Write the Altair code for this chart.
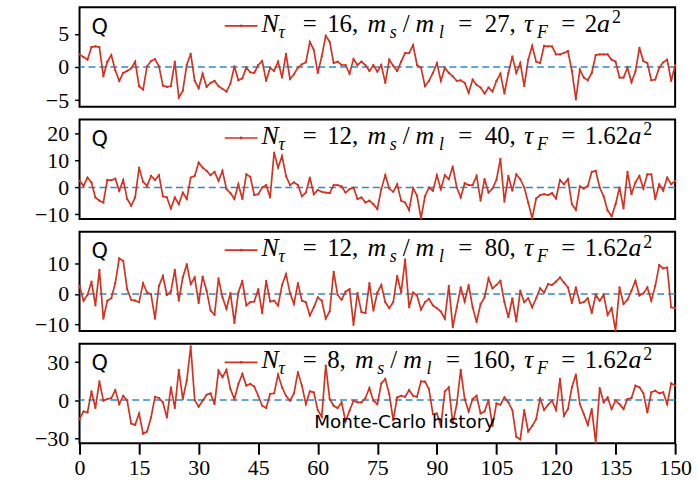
import altair as alt
import pandas as pd

# Monte-Carlo trajectory index
steps = list(range(151))

# Topological charge Q along the history, one list per ensemble
q_nt16 = [
    1.9, 1.5, 1.1, 3.0, 3.1, 3.0, -1.4, 0.8, 1.8, -0.5,
    -2.1, -0.9, -0.6, -0.2, 0.8, -2.9, -3.4, 0.1, 0.9, 1.2,
    0.1, -2.8, -3.0, -2.9, 0.8, -4.6, -3.6, 0.3, 2.0, -2.1,
    -3.2, -1.0, -3.0, -2.4, -2.1, -2.9, -3.3, -3.7, -2.5, 0.1,
    -2.0, -1.7, -0.1, -0.8, -0.9, 0.3, 0.9, -2.1, -0.1, -0.6,
    0.8, -1.6, 2.0, -1.8, -1.1, -0.1, 0.4, 0.7, 3.8, 2.6,
    -0.9, 1.6, 4.7, 3.8, 0.6, 0.8, 0.3, 0.3, -1.0, 1.2,
    0.3, 0.8, 0.3, -0.6, 0.3, -0.7, 0.3, -2.4, 1.1, 0.2,
    -0.6, 0.8, 2.1, 2.1, 3.3, 0.3, -0.1, -2.9, -2.1, -0.9,
    0.6, -2.1, -0.1, -0.9, -1.4, -2.1, -2.0, -2.4, -3.9, -1.9,
    -2.7, -3.1, -4.0, -3.1, -3.7, -2.1, -1.0, -4.0, -0.9, 1.6,
    -0.9, 0.6, -2.9, 1.1, 3.2, 0.8, 0.6, 3.2, 3.1, 3.1,
    1.9, 1.9, 2.1, 2.4, -0.6, -4.9, -0.4, -1.6, -2.0, -0.9,
    1.8, 1.9, 1.9, 1.9, 1.1, 0.8, -1.6, -1.6, -0.1, -2.3,
    -0.7, 2.9, 0.9, 0.6, -2.0, -1.9, -0.1, 0.7, 1.1, -2.1,
    0.3,
]
q_nt12_40 = [
    2.5, 0.6, 3.7, 1.9, -3.7, -4.9, -5.6, 2.8, 2.7, 3.3,
    -1.2, 2.8, -4.3, -6.8, -3.7, 7.4, 2.1, 0.6, 4.3, 2.8,
    4.6, -3.3, -3.7, -7.8, -3.7, -6.2, -1.9, -4.3, 3.7, 4.3,
    9.3, 7.4, 6.2, 4.6, 5.8, 2.5, 6.2, -0.6, -2.1, -4.3,
    1.2, -4.3, 4.9, 4.0, -2.8, -2.5, 0.0, 0.9, -3.7, 13.0,
    7.4, 11.7, 4.3, 0.9, 1.9, 0.9, -3.3, -1.9, 3.7, -2.5,
    -0.9, -1.6, -1.9, -2.1, 0.9, 0.9, 0.4, -1.9, -0.6, 0.0,
    -4.3, -3.7, -5.6, -4.9, -6.2, -8.0, -0.6, 4.6, -0.4, -1.6,
    1.2, -4.9, -5.6, -8.4, -0.2, -3.1, -11.5, -3.3, 0.0, -1.2,
    4.6, -0.6, 4.6, 3.1, 7.8, 0.0, -3.7, 1.6, 0.9, 0.9,
    4.3, -4.9, 3.1, -1.9, -0.4, 2.8, 10.7, -5.3, 4.3, -1.2,
    4.9, 3.1, 0.0, -5.6, -11.5, -4.1, -2.8, -2.5, -2.8, -2.1,
    -4.1, 2.8, 1.2, 3.1, -6.2, -8.3, 0.4, -0.4, 0.6, 5.8,
    6.2, 0.0, -3.3, -8.6, -10.7, -6.2, 0.0, -7.8, 5.8, -2.5,
    1.9, 4.3, -0.4, 4.9, 4.9, -4.3, 1.2, -1.2, 3.7, 1.2,
    2.5,
]
q_nt12_80 = [
    2.7, -2.2, -0.3, 4.1, -3.8, 8.0, -8.2, -2.2, -1.4, 3.6,
    11.8, 11.0, 1.6, -1.9, -2.2, -2.7, 3.6, 0.5, 0.0, -8.2,
    2.7, 6.0, -0.3, 0.8, 8.0, -2.2, 5.5, 9.9, 3.3, 5.5,
    -3.0, 5.8, 1.1, -5.5, -6.9, 5.2, -1.1, -4.9, 0.3, -9.6,
    0.5, 4.4, -3.8, -2.7, -2.5, 1.6, -6.3, 4.4, -2.5, -2.2,
    -3.8, 3.0, 6.6, 0.3, -3.3, 3.6, -2.2, -2.7, -7.1, -4.4,
    -1.1, -2.2, -8.2, -5.8, 7.4, -0.3, -1.9, 0.8, 1.6, -10.2,
    0.3, -6.0, -6.3, 3.6, -5.5, 0.5, 3.0, -2.7, -4.7, -2.7,
    6.0, 0.5, 11.5, -4.4, 0.5, -0.5, -5.2, -2.7, -1.6, -3.8,
    -4.7, -5.8, -8.2, 2.7, -11.0, -4.4, 2.2, -2.5, 3.0, -4.4,
    -9.3, -3.3, -1.1, 5.2, 1.9, 3.0, 4.4, -2.7, -7.7, -1.4,
    -9.1, 1.1, -2.7, -1.4, -4.4, -1.4, 1.9, 0.5, 3.3, 3.0,
    4.1, 5.5, 3.8, 2.2, -3.0, 2.2, -3.0, -2.7, -1.4, -6.3,
    -0.3, -2.2, -0.3, -6.9, -4.7, -12.1, 2.2, -3.3, -1.9, 1.1,
    4.4, -0.5, 0.2, 2.2, -2.2, 2.7, 9.6, 8.5, 8.8, -4.4,
    -4.7,
]
q_nt8 = [
    -15.1, -9.0, -9.8, 6.9, -6.3, 14.8, -0.5, 0.8, 1.6, 7.9,
    -3.2, 3.4, -0.5, -18.5, -19.6, -10.6, -26.5, -24.9, -13.8, 2.6,
    1.6, -1.9, -13.8, 10.1, -6.3, 23.8, 0.8, 15.3, 42.3, 0.0,
    -5.3, -0.5, 4.2, 5.3, -3.2, 23.3, 18.0, 23.8, 8.7, 0.8,
    12.7, 20.6, 11.4, 12.7, 10.6, 3.4, -4.5, -6.3, 4.8, 5.3,
    20.1, 10.1, 3.4, -0.5, 5.3, 22.0, 11.4, -3.2, 6.9, 6.1,
    -7.9, -13.2, 27.2, 0.8, -4.5, -6.3, -1.9, -16.9, -8.5, -0.5,
    -1.9, -1.9, 1.6, 9.5, -0.5, -3.2, 13.2, 16.7, 4.8, -15.9,
    2.1, 3.4, 2.6, 7.9, 3.4, 2.6, 14.8, 14.6, 8.7, -11.1,
    -10.6, -20.4, 6.9, 10.1, -18.5, -3.2, 23.8, 0.8, -9.0, 0.8,
    3.4, -10.6, -9.0, 0.0, -20.4, -2.6, -3.7, 2.1, -1.9, -7.9,
    -29.1, -31.0, -7.9, -24.9, -20.4, -15.1, 1.6, -7.9, -3.7, -0.5,
    -7.9, 16.7, -12.4, -7.1, 10.1, 20.1, -3.2, -11.1, -19.6, -7.1,
    -33.6, 9.5, -1.9, 2.1, -7.1, -0.5, -3.2, -7.1, 0.8, 1.6,
    11.4, 10.1, 5.3, -9.8, 6.1, 7.4, 5.3, 6.1, -3.2, 13.2,
    11.4,
]

# Ensemble parameters shown in each panel's key
n_tau = ["16", "12", "12", "8"]
mass_ratio = ["27", "40", "80", "160"]
tau_flow = ["2", "1.62", "1.62", "1.62"]

# Axis ranges and tick values per panel
y_domains = [[-6, 9], [-11.7, 25.3], [-12.3, 20.7], [-34.1, 44.4]]
y_ticks = [[-5, 0, 5], [-10, 0, 10, 20], [-10, 0, 10], [-30, 0, 30]]
x_ticks = list(range(0, 151, 15))

series = [q_nt16, q_nt12_40, q_nt12_80, q_nt8]

RED = "#d7301f"
BLUE = "#2a8ad0"
W, H = 599, 100
SERIF = "Liberation Serif"
SANS = "DejaVu Sans"


def key_pieces(nt, ratio, tauf):
    """Pieces of the key label: (x offset in px, style, text)."""
    out = []
    x = 183.0

    def add(style, text, adv, shift=0.0):
        nonlocal x
        out.append((x + shift, style, text))
        x += adv

    def num_w(s):
        return sum(6.5 if c == "." else 12.5 for c in s)

    add("it", "N", 17)
    add("sub", "τ", 22)
    add("rm", "=", 27, 2.5)
    add("rm", nt + ",", num_w(nt) + 14.5)
    add("it", "m", 23.5, 1)
    add("sub", "s", 12)
    add("rm", "/", 13, 1)
    add("it", "m", 24.5, 1)
    add("sub", "l", 17)
    add("rm", "=", 29, 2.5)
    add("rm", ratio + ",", num_w(ratio) + 14.5)
    add("it", "τ", 13)
    add("sub", "F", 22)
    add("rm", "=", 26, 2.5)
    add("rm", tauf, num_w(tauf))
    add("it", "a", 15)
    add("sup", "2", 0)
    return out


def make_panel(i):
    lo, hi = y_domains[i]

    def xd(px):
        return px * 150.0 / W

    def yd(py):
        return hi - py * (hi - lo) / H

    last = i == len(series) - 1
    x_axis = (
        alt.Axis(values=x_ticks, title=None, tickSize=11, tickWidth=2,
                 labelFont=SERIF, labelFontSize=22, labelPadding=3,
                 domain=False, grid=False, labelFlush=False)
        if last else None
    )
    xs = alt.Scale(domain=[0, 150], nice=False, zero=False)
    ys = alt.Scale(domain=[lo, hi], nice=False, zero=False)
    x_enc = alt.X("step:Q", scale=xs, axis=x_axis)
    y_enc = alt.Y("Q:Q", scale=ys, axis=alt.Axis(
        values=y_ticks[i], title=None, tickSize=5, tickWidth=1.5,
        labelFont=SERIF, labelFontSize=22, labelPadding=6,
        domain=False, grid=False, minExtent=74, maxExtent=74))

    df = pd.DataFrame({"step": steps, "Q": series[i]})
    zero = alt.Chart(pd.DataFrame({"Q": [0.0]})).mark_rule(
        color=BLUE, strokeDash=[7, 4], strokeWidth=1.6).encode(y=y_enc)
    line = alt.Chart(df).mark_line(
        color=RED, strokeWidth=1.7,
        point=alt.OverlayMarkDef(filled=True, size=5, color=RED)
    ).encode(x=x_enc, y=y_enc)

    # key: sample line with marker, then the label
    sample = pd.DataFrame({"step": [xd(146), xd(179)], "Q": [yd(18.6)] * 2})
    key_line = alt.Chart(sample).mark_line(color=RED, strokeWidth=1.7).encode(x=x_enc, y=y_enc)
    key_dot = alt.Chart(pd.DataFrame({"step": [xd(162.5)], "Q": [yd(18.6)]})).mark_point(
        filled=True, size=8, color=RED, opacity=1).encode(x=x_enc, y=y_enc)

    pieces = key_pieces(n_tau[i], mass_ratio[i], tau_flow[i])
    styles = {
        "rm": dict(fontSize=25, fontStyle="normal", dy=24.8),
        "it": dict(fontSize=26, fontStyle="italic", dy=24.8),
        "sub": dict(fontSize=18, fontStyle="italic", dy=30.8),
        "sup": dict(fontSize=18, fontStyle="normal", dy=16.0),
    }
    text_layers = []
    for name, st in styles.items():
        rows = [(xd(px), yd(st["dy"]), t) for px, s, t in pieces if s == name]
        if not rows:
            continue
        tdf = pd.DataFrame(rows, columns=["step", "Q", "label"])
        text_layers.append(
            alt.Chart(tdf).mark_text(
                align="left", baseline="alphabetic", color="black",
                font=SERIF, fontSize=st["fontSize"], fontStyle=st["fontStyle"]
            ).encode(x=x_enc, y=y_enc, text="label:N")
        )

    q_lab = alt.Chart(pd.DataFrame({"step": [xd(12)], "Q": [yd(26.5)], "label": ["Q"]})).mark_text(
        align="left", baseline="alphabetic", font=SANS, fontSize=21, color="black"
    ).encode(x=x_enc, y=y_enc, text="label:N")

    layers = [zero, line, key_line, key_dot, q_lab] + text_layers
    if last:
        layers.append(
            alt.Chart(pd.DataFrame({"step": [xd(327)], "Q": [yd(85)], "label": ["Monte-Carlo history"]}))
            .mark_text(align="center", baseline="alphabetic", font=SANS, fontSize=18.5, color="black")
            .encode(x=x_enc, y=y_enc, text="label:N")
        )
    return alt.layer(*layers).properties(width=W, height=H)


chart = alt.vconcat(
    *[make_panel(i) for i in range(4)], spacing=12.8, bounds="flush"
).properties(
    padding={"left": 5, "top": 5, "right": 5, "bottom": 5}
).configure_view(stroke="black", strokeWidth=2).configure_axis(
    tickColor="black", labelColor="black"
)

chart.save("out.html", embed_options={"renderer": "svg", "actions": False})
